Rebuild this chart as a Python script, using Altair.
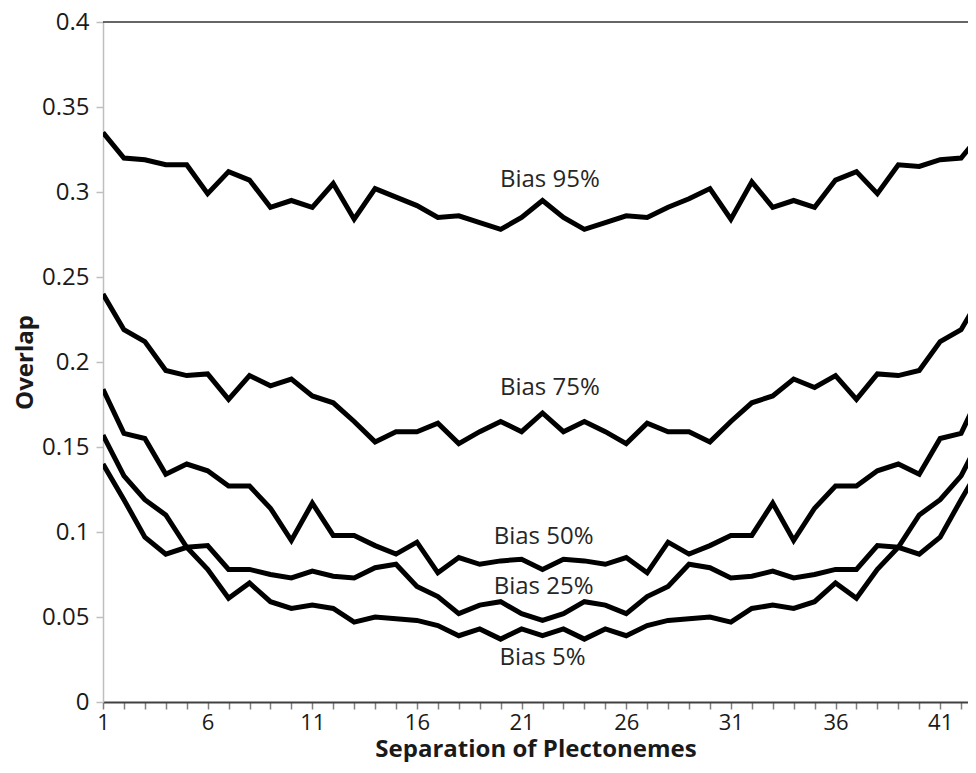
import altair as alt
import pandas as pd

# Separation of plectonemes (x) 1..43
x_vals = list(range(1, 44))

bias95 = [0.335, 0.320, 0.319, 0.316, 0.316, 0.299, 0.312, 0.307, 0.291, 0.295,
          0.291, 0.305, 0.284, 0.302, 0.297, 0.292, 0.285, 0.286, 0.282, 0.278,
          0.285, 0.295, 0.285, 0.278, 0.282, 0.286, 0.285, 0.291, 0.296, 0.302,
          0.284, 0.306, 0.291, 0.295, 0.291, 0.307, 0.312, 0.299, 0.316, 0.315,
          0.319, 0.320, 0.335]
bias75 = [0.240, 0.219, 0.212, 0.195, 0.192, 0.193, 0.178, 0.192, 0.186, 0.190,
          0.180, 0.176, 0.165, 0.153, 0.159, 0.159, 0.164, 0.152, 0.159, 0.165,
          0.159, 0.170, 0.159, 0.165, 0.159, 0.152, 0.164, 0.159, 0.159, 0.153,
          0.165, 0.176, 0.180, 0.190, 0.185, 0.192, 0.178, 0.193, 0.192, 0.195,
          0.212, 0.219, 0.240]
bias50 = [0.184, 0.158, 0.155, 0.134, 0.140, 0.136, 0.127, 0.127, 0.114, 0.095,
          0.117, 0.098, 0.098, 0.092, 0.087, 0.094, 0.076, 0.085, 0.081, 0.083,
          0.084, 0.078, 0.084, 0.083, 0.081, 0.085, 0.076, 0.094, 0.087, 0.092,
          0.098, 0.098, 0.117, 0.095, 0.114, 0.127, 0.127, 0.136, 0.140, 0.134,
          0.155, 0.158, 0.184]
bias25 = [0.140, 0.119, 0.097, 0.087, 0.091, 0.092, 0.078, 0.078, 0.075, 0.073,
          0.077, 0.074, 0.073, 0.079, 0.081, 0.068, 0.062, 0.052, 0.057, 0.059,
          0.052, 0.048, 0.052, 0.059, 0.057, 0.052, 0.062, 0.068, 0.081, 0.079,
          0.073, 0.074, 0.077, 0.073, 0.075, 0.078, 0.078, 0.092, 0.091, 0.087,
          0.097, 0.119, 0.140]
bias5 = [0.157, 0.133, 0.119, 0.110, 0.091, 0.078, 0.061, 0.070, 0.059, 0.055,
         0.057, 0.055, 0.047, 0.050, 0.049, 0.048, 0.045, 0.039, 0.043, 0.037,
         0.043, 0.039, 0.043, 0.037, 0.043, 0.039, 0.045, 0.048, 0.049, 0.050,
         0.047, 0.055, 0.057, 0.055, 0.059, 0.070, 0.061, 0.078, 0.091, 0.110,
         0.119, 0.133, 0.157]

series_names = ["Bias 95%", "Bias 75%", "Bias 50%", "Bias 25%", "Bias 5%"]
series_vals = [bias95, bias75, bias50, bias25, bias5]

# annotation anchor points (data coordinates)
label_x = [22.35, 22.35, 22.05, 22.05, 22.0]
label_y = [0.307, 0.1845, 0.097, 0.0675, 0.026]

x_tick_values = list(range(1, 43))
y_tick_values = [0, 0.05, 0.1, 0.15, 0.2, 0.25, 0.3, 0.35, 0.4]

rows = []
for name, vals in zip(series_names, series_vals):
    for xv, yv in zip(x_vals, vals):
        rows.append({"series": name, "x": xv, "y": yv})
df = pd.DataFrame(rows)

labels_df = pd.DataFrame({"label": series_names, "x": label_x, "y": label_y})
top_df = pd.DataFrame({"y": [0.4]})

xscale = alt.Scale(domain=[1, 42.33], nice=False, zero=False)
yscale = alt.Scale(domain=[0, 0.4], nice=False, zero=False)

xaxis = alt.Axis(
    values=x_tick_values,
    labelExpr="(datum.value - 1) % 5 == 0 ? datum.label : ''",
    title="Separation of Plectonemes",
    labelFlush=False,
    labelOverlap=False,
    labelFontSize=22,
    labelPadding=3,
    titleY=54,
    titleBaseline="alphabetic",
)
yaxis = alt.Axis(
    values=y_tick_values,
    format=".2~f",
    title="Overlap",
    labelFlush=False,
    labelOverlap=False,
    titleX=-78,
    titleY=340,
    titleAngle=-90,
    titleAlign="center",
    titleBaseline="middle",
)

lines = alt.Chart(df).mark_line(color="black", strokeWidth=5, clip=True).encode(
    x=alt.X("x:Q", scale=xscale, axis=xaxis),
    y=alt.Y("y:Q", scale=yscale, axis=yaxis),
    detail="series:N",
)

top_rule = alt.Chart(top_df).mark_rule(color="#333333", strokeWidth=1.5).encode(
    y=alt.Y("y:Q", scale=yscale, axis=yaxis),
)

texts = alt.Chart(labels_df).mark_text(
    font="Open Sans", fontSize=24, color="#262626", align="center", baseline="middle"
).encode(
    x=alt.X("x:Q", scale=xscale, axis=xaxis),
    y=alt.Y("y:Q", scale=yscale, axis=yaxis),
    text="label:N",
)

chart = (
    alt.layer(top_rule, lines, texts)
    .properties(
        width=865,
        height=680,
        autosize=alt.AutoSizeParams(type="none"),
        padding={"left": 95, "top": 14, "right": 0, "bottom": 60},
    )
    .configure_view(stroke=None)
    .configure_axis(
        labelFont="Open Sans",
        labelFontSize=24,
        labelColor="#1a1a1a",
        titleFont="Open Sans",
        titleFontSize=24,
        titleFontWeight="bold",
        titleColor="#1a1a1a",
        grid=False,
    )
    .configure_axisX(
        domainColor="#404040", domainWidth=2, tickColor="#7f7f7f",
        tickSize=7, tickWidth=1.5,
    )
    .configure_axisY(
        domainColor="#bfbfbf", domainWidth=1.5, tickColor="#bfbfbf",
        tickSize=7, tickWidth=1.5, labelPadding=7,
    )
)

chart.save("out.html", embed_options={"renderer": "svg", "actions": False})
